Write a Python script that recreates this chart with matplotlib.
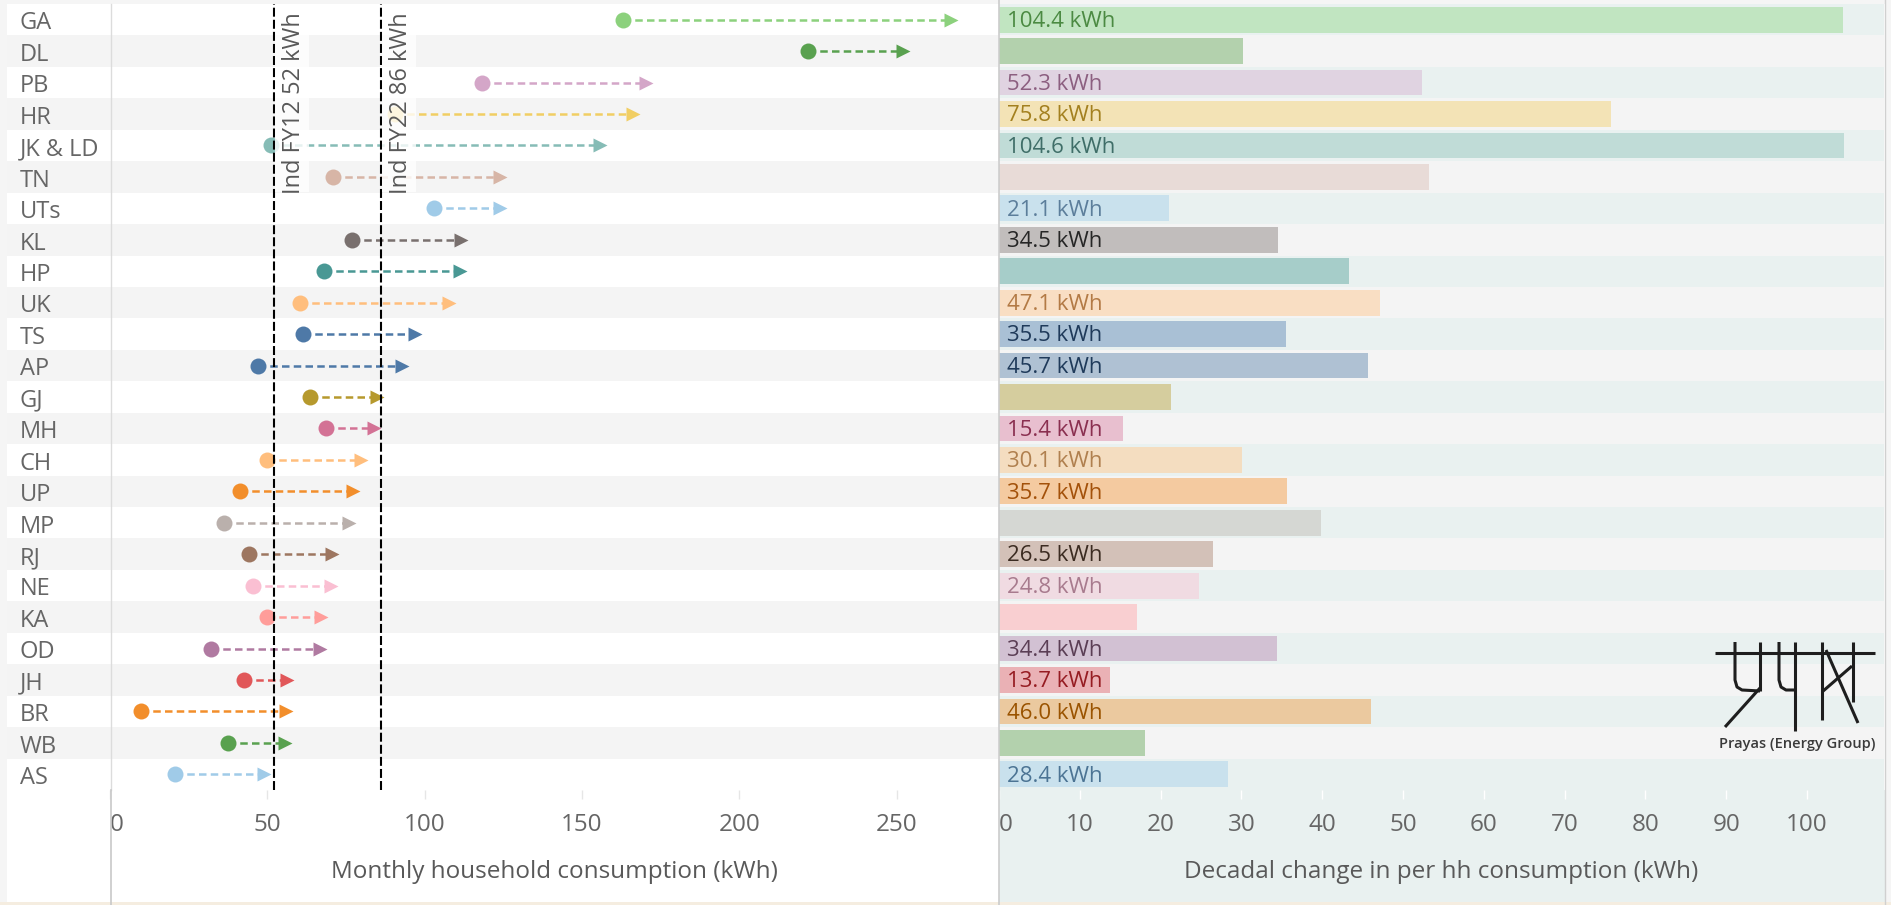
import matplotlib
matplotlib.use('Agg')
import matplotlib.pyplot as plt
from matplotlib.patches import Rectangle
from matplotlib.lines import Line2D
from matplotlib.transforms import offset_copy

plt.rcParams['font.family'] = ['Open Sans', 'DejaVu Sans']

# ---------------- data ----------------
states = ['GA', 'DL', 'PB', 'HR', 'JK & LD', 'TN', 'UTs', 'KL', 'HP', 'UK', 'TS', 'AP',
          'GJ', 'MH', 'CH', 'UP', 'MP', 'RJ', 'NE', 'KA', 'OD', 'JH', 'BR', 'WB', 'AS']
fy12 = [163.0, 222.0, 118.2, 90.6, 51.2, 70.8, 103.0, 77.0, 68.0, 60.5, 61.4, 47.1,
        63.7, 68.6, 49.8, 41.4, 36.2, 44.2, 45.6, 50.0, 32.2, 42.6, 10.0, 37.6, 20.6]
fy22 = [267.4, 252.2, 170.5, 166.4, 155.8, 124.0, 124.1, 111.5, 111.3, 107.6, 96.9, 92.8,
        85.0, 84.0, 79.9, 77.1, 76.1, 70.7, 70.4, 67.1, 66.6, 56.3, 56.0, 55.7, 49.0]
change = [104.4, 30.2, 52.3, 75.8, 104.6, 53.2, 21.1, 34.5, 43.3, 47.1, 35.5, 45.7,
          21.3, 15.4, 30.1, 35.7, 39.9, 26.5, 24.8, 17.1, 34.4, 13.7, 46.0, 18.1, 28.4]
show_label = [True, False, True, True, True, False, True, True, False, True, True, True,
              False, True, True, True, False, True, True, False, True, True, True, False, True]
ref_values = [52, 86]
ref_labels = ['Ind FY12 52 kWh', 'Ind FY22 86 kWh']
left_ticks = [0, 50, 100, 150, 200, 250]
right_ticks = [0, 10, 20, 30, 40, 50, 60, 70, 80, 90, 100]
left_title = 'Monthly household consumption (kWh)'
right_title = 'Decadal change in per hh consumption (kWh)'
logo_caption = 'Prayas (Energy Group)'

# ---------------- styles ----------------
dot_colors = ['#8cd17d', '#59a14f', '#d4a6c8', '#f1ce63', '#86bcb6', '#d7b5a6', '#a0cbe8',
              '#79706e', '#499894', '#ffbe7d', '#4e79a7', '#4e79a7', '#b6992d', '#d37295',
              '#ffbe7d', '#f28e2b', '#bab0ac', '#9d7660', '#fabfd2', '#ff9d9a', '#b07aa1',
              '#e15759', '#f28e2b', '#59a14f', '#a0cbe8']
bar_colors = ['#c1e5c1', '#b3d1ad', '#e0d3e1', '#f3e3b6', '#c0dcd7', '#e8dbd7', '#c9e1ed',
              '#c1bdbc', '#a6cdc9', '#f9dec3', '#a9c0d5', '#afc1d3', '#d5cd9e', '#e8bfcf',
              '#f4ddc0', '#f4caa0', '#d5d7d3', '#d3c1b8', '#f0dbe2', '#f9cfd1', '#d2c1d3',
              '#eab1b5', '#ebc99f', '#b3d1ad', '#c9e1ed']
text_colors = ['#4b8a42', '#3d6e36', '#8c5f80', '#a3801f', '#3f6e68', '#7d5f52', '#5c7e9b',
               '#262626', '#2f6460', '#b37a45', '#1f3a5a', '#1f3a5a', '#6d5c1a', '#8a2f50',
               '#b0804f', '#a3510a', '#6a625e', '#3b2b21', '#a87b8e', '#a4504e', '#5b3e55',
               '#961c22', '#9a5300', '#3d6e36', '#4c7494']

W, H = 1891, 905
fig = plt.figure(figsize=(W / 100, H / 100), dpi=100)
fig.patch.set_facecolor('white')


def fr(x0, y0, x1, y1):
    return [x0 / W, 1 - y1 / H, (x1 - x0) / W, (y1 - y0) / H]


def rect_px(x0, y0, x1, y1, color, z=0):
    fig.add_artist(Rectangle((x0 / W, 1 - y1 / H), (x1 - x0) / W, (y1 - y0) / H,
                             transform=fig.transFigure, facecolor=color,
                             edgecolor='none', zorder=z))


def vline_px(x, y0, y1, color, lw=1.0, z=10):
    fig.add_artist(Line2D([x / W, x / W], [1 - y0 / H, 1 - y1 / H],
                          transform=fig.transFigure, color=color, lw=lw, zorder=z))


# background strips
rect_px(0, 0, W, 4, '#f5f5f5', -5)
rect_px(0, 0, 7, H, '#f5f5f5', -5)
rect_px(1885, 0, W, H, '#f5f5f5', -5)
rect_px(999, 790, 1885, 902, '#e9f1f0', -5)
rect_px(0, 902, W, H, '#f5ede0', -4)

n = len(states)
rows = list(range(n))
TXT = '#666666'

# label column
ax_lab = fig.add_axes(fr(7, 4, 110, 790))
ax_lab.set_xlim(0, 103)
ax_lab.set_ylim(n - 0.5, -0.5)
ax_lab.axis('off')
for i in rows:
    if i % 2 == 1:
        ax_lab.axhspan(i - 0.5, i + 0.5, color='#f4f4f4', lw=0, zorder=0)
    ax_lab.text(13, i + 0.31, states[i], fontsize=17, color=TXT, va='baseline', ha='left')

# dumbbell panel
ax_l = fig.add_axes(fr(110, 4, 998, 790))
ax_l.set_xlim(0, 888 / 3.146)
ax_l.set_ylim(n - 0.5, -0.5)
for s in ax_l.spines.values():
    s.set_visible(False)
ax_l.set_facecolor('white')
for i in rows:
    if i % 2 == 1:
        ax_l.axhspan(i - 0.5, i + 0.5, color='#f4f4f4', lw=0, zorder=0)
for i in rows:
    c = dot_colors[i]
    ax_l.plot([fy12[i], fy22[i]], [i, i], color=c, lw=1.8, ls=(0, (3.0, 1.7)),
              dash_capstyle='butt', zorder=3)
    ax_l.plot(fy12[i], i, 'o', ms=11.5, color=c, mec='none', zorder=4)
    ax_l.plot(fy22[i], i, '>', ms=10, color=c, mec='none', zorder=4)
for v, lab in zip(ref_values, ref_labels):
    ax_l.axvline(v, color='black', lw=1.5, ls=(0, (4.3, 1.5)), zorder=5)
    ax_l.add_patch(Rectangle((v + 0.4, -0.5), 11.0, 5.98, facecolor='white', alpha=0.8,
                             edgecolor='none', zorder=6))
    ax_l.text(v + 6.4, 2.66, lab, rotation=90, ha='center', va='center', fontsize=17,
              color='#595959', zorder=7)
ax_l.set_yticks([])
ax_l.set_xticks(left_ticks)
ax_l.set_xticklabels([str(t) for t in left_ticks])
ax_l.tick_params(axis='x', length=6.5, width=1, color='#e6e6e6', labelsize=17.5,
                 labelcolor=TXT, pad=10)
ax_l.get_xticklabels()[0].set_ha('left')

# bar panel
ax_r = fig.add_axes(fr(999, 4, 1884, 790))
ax_r.set_xlim(0, 885 / 8.08)
ax_r.set_ylim(n - 0.5, -0.5)
for s in ax_r.spines.values():
    s.set_visible(False)
for i in rows:
    ax_r.axhspan(i - 0.5, i + 0.5, color='#e9f1f0' if i % 2 == 0 else '#f4f4f4',
                 lw=0, zorder=0)
ax_r.barh(rows, change, height=0.82, color=bar_colors, zorder=2)
tr = offset_copy(ax_r.transData, fig=fig, x=8, y=0, units='dots')
for i in rows:
    if show_label[i]:
        ax_r.text(0, i + 0.23, f'{change[i]:.1f} kWh', transform=tr, fontsize=16,
                  color=text_colors[i], va='baseline', ha='left', zorder=3)
ax_r.set_yticks([])
ax_r.set_xticks(right_ticks)
ax_r.set_xticklabels([str(t) for t in right_ticks])
ax_r.tick_params(axis='x', length=6.5, width=1, color='white', labelsize=17.5,
                 labelcolor=TXT, pad=10)
ax_r.get_xticklabels()[0].set_ha('left')

# axis titles
fig.text(554 / W, 1 - 878 / H, left_title, ha='center', va='baseline', fontsize=17.5,
         color='#595959')
fig.text(1441.5 / W, 1 - 878 / H, right_title, ha='center', va='baseline', fontsize=17.5,
         color='#595959')

# panel borders
vline_px(110.5, 4, 790, '#dcdcdc')
vline_px(110.5, 790, H, '#c8c8c8', lw=1.2)
vline_px(998.5, 0, H, '#cccccc', lw=1.2)
vline_px(1885, 0, H, '#d0d0d0', lw=1.0)

# logo (drawn strokes + caption)
ax_logo = fig.add_axes(fr(1700, 630, 1891, 760))
ax_logo.set_xlim(0, 191)
ax_logo.set_ylim(130, 0)
ax_logo.axis('off')
strokes = [
    ([15, 175], [22.5, 22.5]),
    ([35, 35, 37, 42, 60], [12, 50, 57, 60, 61]),
    ([60, 60], [12, 61]),
    ([60, 25], [58, 97]),
    ([79, 79, 81, 86, 94], [12, 50, 57, 60, 60]),
    ([95, 95], [12, 101]),
    ([122, 122], [12, 90]),
    ([153, 153], [12, 72]),
    ([126, 158], [20, 93]),
    ([122, 152], [62, 36]),
]
for xs, ys in strokes:
    ax_logo.plot(xs, ys, color='#1e1e1e', lw=2.2, solid_capstyle='butt')
ax_logo.text(97, 118, logo_caption, ha='center', va='baseline', fontsize=10.5,
             fontweight='semibold', color='#3a3a3a')

fig.savefig('out.png', dpi=100, facecolor=fig.get_facecolor())
